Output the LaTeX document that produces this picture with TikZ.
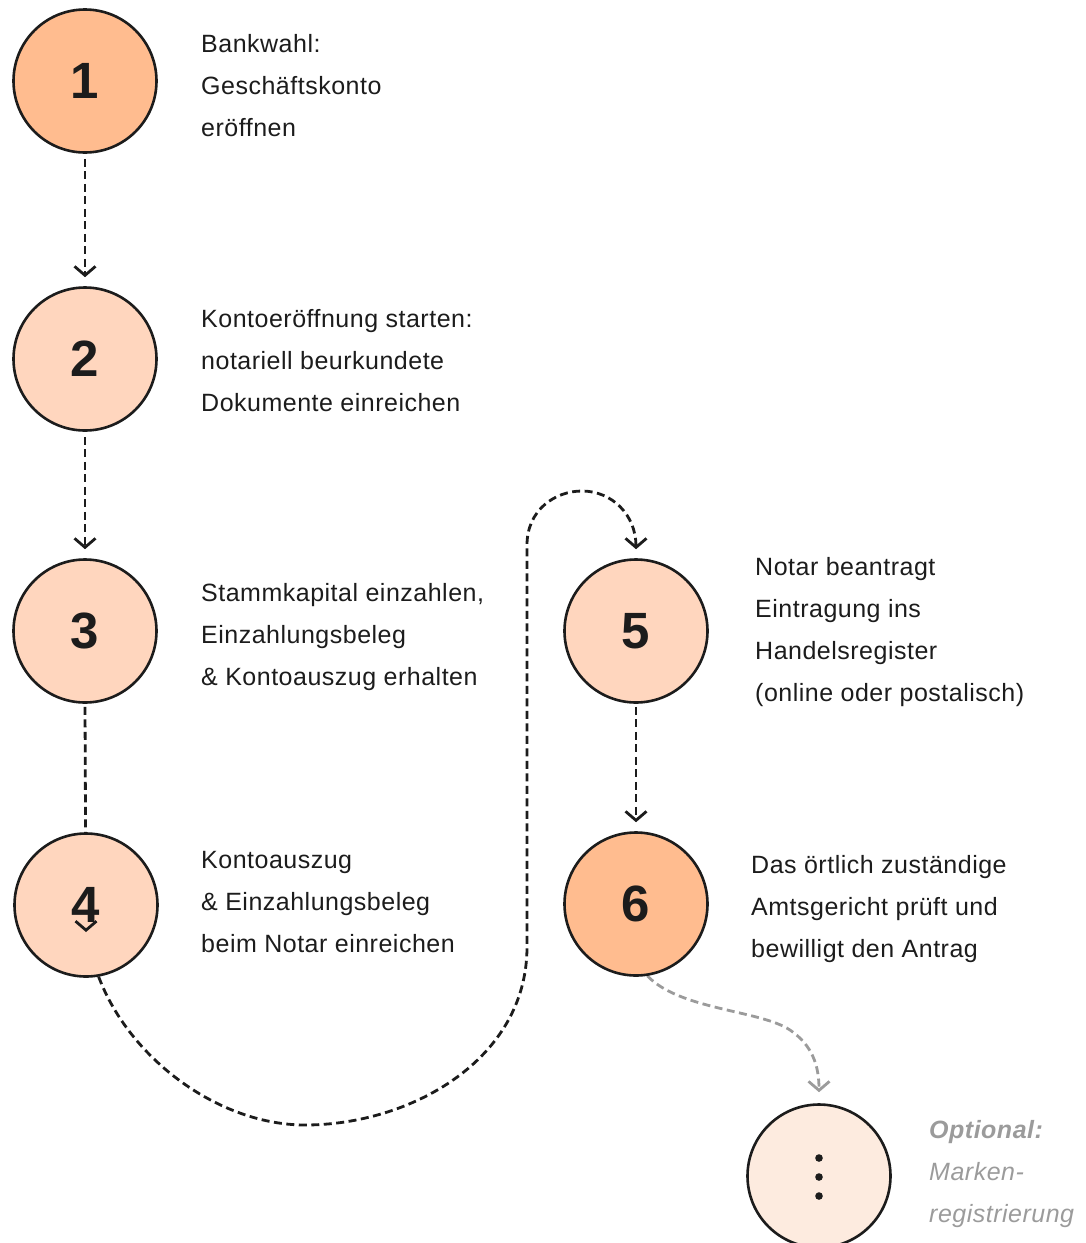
\documentclass[tikz,border=0pt]{standalone}
\usepackage{fontspec}
\setmainfont{Liberation Sans}[LetterSpace=2.0]
\usetikzlibrary{arrows.meta,calc}
\pgfdeclarelayer{bg}
\pgfsetlayers{bg,main}
\definecolor{ink}{HTML}{1C1C1C}
\definecolor{peach}{HTML}{FFBC8F}
\definecolor{peachlight}{HTML}{FFD6BE}
\definecolor{peachpale}{HTML}{FDEBDF}
\definecolor{greytxt}{HTML}{9B9B9B}
\tikzset{
  stepcircle/.style={circle, draw=ink, line width=2.6pt, minimum size=143pt, inner sep=0pt,
    font=\fontsize{51}{51}\selectfont\bfseries, text=ink},
  txt/.style={anchor=base west, inner sep=0pt, font=\fontsize{25}{30}\selectfont, text=ink},
  opttxt/.style={anchor=base west, inner sep=0pt, font=\fontsize{25}{30}\selectfont\itshape, text=greytxt},
  flow/.style={draw=ink, line width=2.8pt, dash pattern=on 8pt off 4.5pt},
  tipend/.style={-{Straight Barb[length=9pt,width=21pt]}},
  optflow/.style={draw=greytxt, line width=2.8pt, dash pattern=on 8pt off 4.5pt},
}
\begin{document}
\begin{tikzpicture}[x=1pt,y=-1pt]
\useasboundingbox (0,0) rectangle (1085,1243);

% circles
\node[stepcircle, fill=peach]      (c1) at (85,81)   {1};
\node[stepcircle, fill=peachlight] (c2) at (85,359)  {2};
\node[stepcircle, fill=peachlight] (c3) at (85,631)  {3};
\node[stepcircle, fill=peachlight] (c4) at (86,905)  {4};
\node[stepcircle, fill=peachlight] (c5) at (636,631) {5};
\node[stepcircle, fill=peach]      (c6) at (636,904) {6};
\node[stepcircle, fill=peachpale]  (c7) at (819,1176) {};
\fill[ink] (819,1158) circle (3.8pt) (819,1177) circle (3.8pt) (819,1196) circle (3.8pt);

% texts
\foreach \t [count=\i] in {Bankwahl:, Geschäftskonto, eröffnen}
  \node[txt] (t1-\i) at (201,{52+42*(\i-1)}) {\t};
\foreach \t [count=\i] in {Kontoeröffnung starten:, notariell beurkundete, Dokumente einreichen}
  \node[txt] (t2-\i) at (201,{327+42*(\i-1)}) {\t};
\foreach \t [count=\i] in {{Stammkapital einzahlen,}, Einzahlungsbeleg, \& Kontoauszug erhalten}
  \node[txt] (t3-\i) at (201,{601+42*(\i-1)}) {\t};
\foreach \t [count=\i] in {Kontoauszug, \& Einzahlungsbeleg, beim Notar einreichen}
  \node[txt] (t4-\i) at (201,{868+42*(\i-1)}) {\t};
\foreach \t [count=\i] in {Notar beantragt, Eintragung ins, Handelsregister, (online oder postalisch)}
  \node[txt] (t5-\i) at (755,{575+42*(\i-1)}) {\t};
\foreach \t [count=\i] in {Das örtlich zuständige, Amtsgericht prüft und, bewilligt den Antrag}
  \node[txt] (t6-\i) at (751,{873+42*(\i-1)}) {\t};
\node[opttxt, font=\fontsize{25}{30}\selectfont\bfseries\itshape] (t7-1) at (929,1138) {Optional:};
\node[opttxt] (t7-2) at (929,1180) {Marken-};
\node[opttxt] (t7-3) at (929,1222) {registrierung};

% connectors
\coordinate (a4) at (86,932);
\coordinate (a4b) at (86,931);
\begin{pgfonlayer}{bg}
\draw[flow, tipend, shorten <=5pt, shorten >=9pt] (c1.south) -- (c2.north);
\draw[flow, tipend, shorten <=5pt, shorten >=9pt] (c2.south) -- (c3.north);
\draw[flow, shorten <=3pt] (c3.south) -- (a4);
\draw[flow, tipend, shorten <=3pt, shorten >=9pt] (c5.south) -- (c6.north);
\draw[flow, tipend, shorten >=9pt] (c4.-80)
  .. controls (130,1060) and (220,1125) .. (305,1125)
  .. controls (410,1125) and (527,1060) .. (527,947)
  -- (527,545)
  .. controls (527,510) and (555,491) .. (582,491)
  .. controls (612,491) and (636,515) .. (c5.north);
\draw[optflow, tipend, shorten >=11pt] (c6.-81)
  .. controls (680,1010) and (760,1010) .. (790,1030)
  .. controls (812,1045) and (819,1065) .. (c7.north);
\end{pgfonlayer}
\draw[draw=ink, line width=2.8pt, tipend] (a4b) -- (a4);
\end{tikzpicture}
\end{document}
